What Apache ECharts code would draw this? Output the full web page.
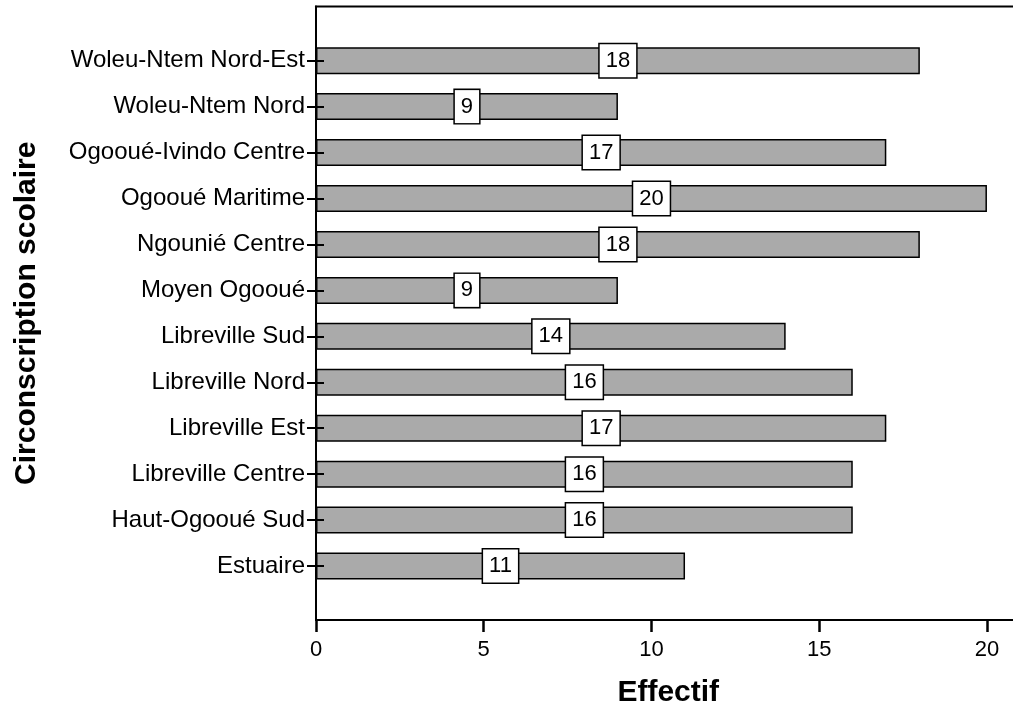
<!DOCTYPE html>
<html>
<head>
<meta charset="utf-8">
<script src="https://cdn.jsdelivr.net/npm/echarts@6/dist/echarts.min.js"></script>
<style>
html,body{margin:0;padding:0;background:#fff;}
#c{width:1013px;height:713px;}
</style>
</head>
<body>
<div id="c"></div>
<script>
const categories = ["Estuaire","Haut-Ogooué Sud","Libreville Centre","Libreville Est","Libreville Nord","Libreville Sud","Moyen Ogooué","Ngounié Centre","Ogooué Maritime","Ogooué-Ivindo Centre","Woleu-Ntem Nord","Woleu-Ntem Nord-Est"];
const effectif = [11,16,16,17,16,14,9,18,20,17,9,18];
const xTicks = [0,5,10,15,20];
const xTitle = "Effectif";
const yTitle = "Circonscription scolaire";

const FONT = '"Liberation Sans", Arial, sans-serif';
const chart = echarts.init(document.getElementById('c'), null, {renderer:'canvas'});
const X_MIN = 0, X_MAX = 21;

chart.setOption({
  animation:false,
  backgroundColor:'#fff',
  grid:[
    {left:316, right:-7.5, top:37.7, bottom:124, show:false, containLabel:false, outerBoundsMode:'none'},
    {left:316, right:-7.5, top:6.5, bottom:93, show:true, borderColor:'#000', borderWidth:2,
     backgroundColor:'transparent', containLabel:false, outerBoundsMode:'none'}
  ],
  xAxis:[
    {type:'value', gridIndex:0, min:X_MIN, max:X_MAX, show:false},
    {type:'value', gridIndex:1, min:X_MIN, max:X_MAX, interval:5, position:'bottom', z:10,
     axisLine:{show:true, onZero:false, lineStyle:{color:'#000', width:2}},
     axisTick:{show:true, inside:false, length:12, lineStyle:{color:'#000', width:2.5}},
     axisLabel:{color:'#000', fontSize:22, fontFamily:FONT, margin:19, showMaxLabel:false,
       formatter:function(v){return xTicks.indexOf(v)>=0 ? String(v) : '';}},
     splitLine:{show:false},
     name:xTitle, nameLocation:'middle', nameGap:58,
     nameTextStyle:{color:'#000', fontSize:30, fontWeight:'bold', fontFamily:FONT}}
  ],
  yAxis:[
    {type:'category', gridIndex:0, data:categories, z:10,
     axisLine:{show:false},
     axisTick:{show:true, alignWithLabel:true, length:9, lineStyle:{color:'#000', width:2}},
     axisLabel:{color:'#000', fontSize:24, fontFamily:FONT, margin:11}},
    {type:'category', gridIndex:0, data:categories, position:'left', z:10,
     axisLine:{show:false},
     axisTick:{show:true, inside:true, alignWithLabel:true, length:8, lineStyle:{color:'#000', width:2}},
     axisLabel:{show:false}},
    {type:'value', gridIndex:1, min:0, max:1, position:'left', z:10,
     axisLine:{show:true, onZero:false, lineStyle:{color:'#000', width:2}},
     axisTick:{show:false}, axisLabel:{show:false}, splitLine:{show:false},
     name:yTitle, nameLocation:'middle', nameGap:274, nameRotate:90,
     nameTextStyle:{color:'#000', fontSize:30, fontWeight:'bold', fontFamily:FONT}}
  ],
  series:[{
    type:'bar', xAxisIndex:0, yAxisIndex:0, data:effectif,
    barWidth:27,
    itemStyle:{color:'#aaaaaa', borderColor:'#000', borderWidth:1.5},
    label:{show:true, position:'inside', formatter:'{c}', color:'#000', fontSize:22, fontFamily:FONT,
      backgroundColor:'#fff', borderColor:'#000', borderWidth:1.5, padding:[4,6,3,6], lineHeight:26}
  }]
});
</script>
</body>
</html>
